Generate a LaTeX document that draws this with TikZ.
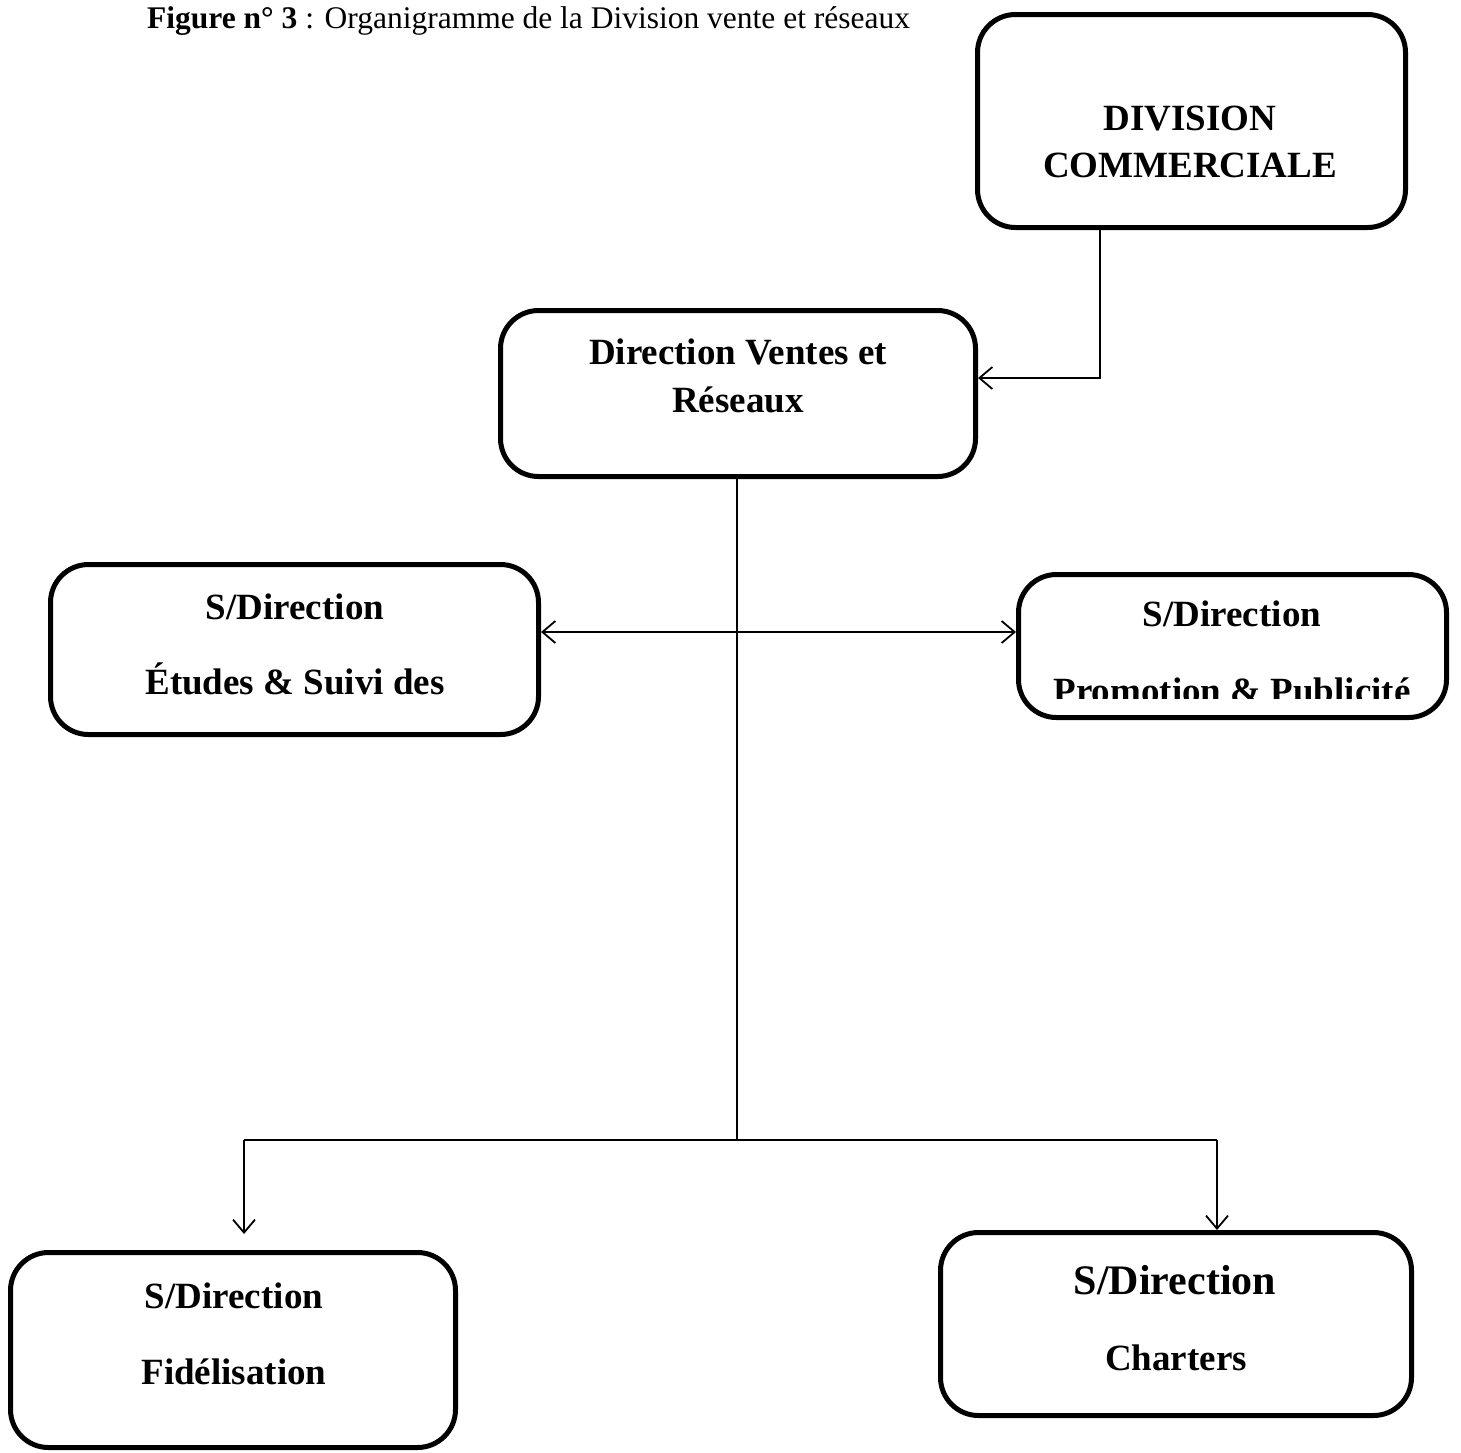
\documentclass[tikz,border=0pt]{standalone}
\usepackage{fontspec}
\setmainfont{Liberation Serif}
\usetikzlibrary{arrows.meta}
\begin{document}
\begin{tikzpicture}[x=1pt,y=-1pt,
  orgbox/.style={draw, line width=5pt, rounded corners=38pt, inner sep=0pt},
  conn/.style={line width=1.8pt},
  barb/.tip={Straight Barb[length=13pt,width=22pt,line width=1.8pt]},
  tip/.style={-barb},
  lbl/.style={font=\fontsize{37}{44}\selectfont\bfseries, anchor=base},
  biglbl/.style={font=\fontsize{42}{50}\selectfont\bfseries, anchor=base}]
\useasboundingbox (0,0) rectangle (1461,1452);

% caption
\node[anchor=base west, inner sep=0pt, font=\fontsize{31.5}{36}\selectfont] (cap) at (147,28)
  {\textbf{Figure n° 3} : Organigramme de la Division vente et réseaux};

% boxes
\node[orgbox, minimum width=428pt, minimum height=213pt] (div) at (1191.5,121) {};
\node[orgbox, minimum width=475pt, minimum height=166pt] (dvr) at (738,393.5) {};
\node[orgbox, minimum width=488pt, minimum height=170pt] (etu) at (294.5,649.5) {};
\node[orgbox, minimum width=428pt, minimum height=143pt] (pro) at (1232.5,646) {};
\node[orgbox, minimum width=445pt, minimum height=195pt] (fid) at (233,1350) {};
\node[orgbox, minimum width=471pt, minimum height=183pt] (cha) at (1176,1324) {};

% box texts
\node[lbl] (divA) at (1190,130) {DIVISION};
\node[lbl] (divB) at (1190,177) {COMMERCIALE};
\node[lbl] (dvrA) at (738,364) {Direction Ventes et};
\node[lbl] (dvrB) at (738,412) {Réseaux};
\node[lbl] (etuA) at (295,619) {S/Direction};
\node[lbl] (etuB) at (295,694) {Études \& Suivi des};
\node[lbl] (proA) at (1232,626) {S/Direction};
\begin{scope}
  \clip (1020,650) rectangle (1445,698);
  \node[lbl] (proB) at (1232,703) {Promotion \& Publicité};
\end{scope}
\node[lbl] (fidA) at (234,1308) {S/Direction};
\node[lbl] (fidB) at (234,1384) {Fidélisation};
\node[biglbl] (chaA) at (1175,1294) {S/Direction};
\node[lbl] (chaB) at (1176,1370) {Charters};

% connectors
\coordinate (k1) at (1100,378);
\coordinate (bus) at (737,1140);
\coordinate (mid) at (737,632);
\coordinate (bl) at (244,1140);
\coordinate (br) at (1217,1140);
\coordinate (blEnd) at (244,1234);

\draw[conn, tip] (k1 |- div.south) |- (k1 -| dvr.east);
\draw[conn] (bus |- dvr.south) -- (bus);
\draw[conn, barb-barb] (mid -| etu.east) -- (mid -| pro.west);
\draw[conn] (bl) -- (br);
\draw[conn, tip] (bl) -- (blEnd);
\draw[conn, tip] (br) -- (br |- cha.north);
\end{tikzpicture}
\end{document}
